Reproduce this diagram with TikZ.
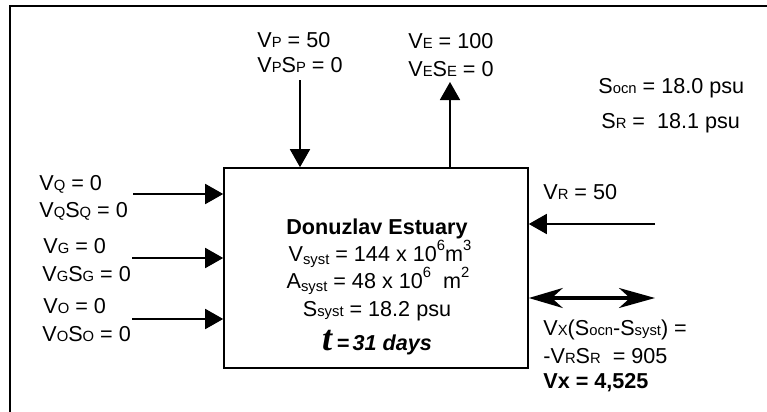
\documentclass[tikz,border=0pt]{standalone}
\usepackage{fontspec}
\setmainfont{Liberation Sans}
\newfontfamily\serifbi{Liberation Serif}
\usetikzlibrary{arrows.meta}

% small letters on the baseline, lowered and raised
\newcommand{\lo}[1]{{\fontsize{7.4}{8}\selectfont #1}}
\newcommand{\dn}[1]{\raisebox{-0.3ex}{\lo{#1}}}
\newcommand{\up}[1]{\raisebox{0.95ex}{\lo{#1}}}

\tikzset{
  flow/.style={line width=0.9pt,-{Triangle[length=9pt,width=10pt]}},
  mix/.style={line width=1.6pt,{Stealth[length=17pt,width=10pt,inset=5.5pt]}-{Stealth[length=18pt,width=10pt,inset=5.5pt]}},
  lbl/.style={anchor=base west,inner sep=0pt,font=\fontsize{10.8}{13}\selectfont},
  cen/.style={lbl,anchor=base}
}

\begin{document}
\begin{tikzpicture}[x=0.5pt,y=-0.5pt]
\useasboundingbox (0,0) rectangle (767,412);
\draw[line width=1.2pt] (10,412) -- (10,6) -- (767,6);

% estuary box
\node[draw,line width=0.8pt,minimum width=152pt,minimum height=100pt,inner sep=0pt] (est) at (376,268) {};
\node[cen] (title) at (377,234) {\textbf{Donuzlav Estuary}};
\node[cen] (vsys) at (380,261) {V\dn{syst} = 144 x 10\up{6}m\up{3}};
\node[cen] (asys) at (378,288) {A\dn{syst} = 48 x 10\up{6}\ \ m\up{2}};
\node[cen] (ssys) at (377,316) {S\lo{syst} = 18.2 psu};
\node[cen] (tres) at (377,350) {{\serifbi\bfseries\itshape\fontsize{18}{18}\selectfont t}\textbf{\textit{\,=\,31 days}}};

% top: precipitation and evaporation
\node[lbl] (vp1) at (257,47) {V\lo{P} = 50};
\node[lbl] (vp2) at (257,72) {V\lo{P}S\lo{P} = 0};
\coordinate (pin) at (300,80);
\draw[flow] (pin) -- (pin |- est.north);

\node[lbl] (ve1) at (408,48) {V\lo{E} = 100};
\node[lbl] (ve2) at (408,76) {V\lo{E}S\lo{E} = 0};
\coordinate (eout) at (450,82);
\draw[flow] (eout |- est.north) -- (eout);

\node[lbl] (socn) at (598,93) {S\lo{ocn} = 18.0 psu};
\node[lbl] (sr) at (601,128) {S\lo{R} =\ \ 18.1 psu};

% left: inflows
\node[lbl] (vq1) at (39,190) {V\lo{Q} = 0};
\node[lbl] (vq2) at (39,217) {V\lo{Q}S\lo{Q} = 0};
\coordinate (qin) at (133,194);
\draw[flow] (qin) -- (qin -| est.west);

\node[lbl] (vg1) at (43,253) {V\lo{G} = 0};
\node[lbl] (vg2) at (42,281) {V\lo{G}S\lo{G} = 0};
\coordinate (gin) at (132,258);
\draw[flow] (gin) -- (gin -| est.west);

\node[lbl] (vo1) at (43,313) {V\lo{O} = 0};
\node[lbl] (vo2) at (42,341) {V\lo{O}S\lo{O} = 0};
\coordinate (oin) at (132,319);
\draw[flow] (oin) -- (oin -| est.west);

% right: residual flow and mixing
\node[lbl] (vr) at (543,199) {V\lo{R} = 50};
\coordinate (rin) at (655,224);
\draw[flow] (rin) -- (rin -| est.east);

\coordinate (xout) at (655,298);
\draw[mix] (xout -| est.east) -- (xout);
\node[lbl] (vx1) at (543,335) {V\lo{X}(S\lo{ocn}-S\lo{syst}) =};
\node[lbl] (vx2) at (543,363) {-V\lo{R}S\lo{R}\ \ = 905};
\node[lbl] (vx3) at (543,388) {\textbf{Vx = 4,525}};
\end{tikzpicture}
\end{document}
